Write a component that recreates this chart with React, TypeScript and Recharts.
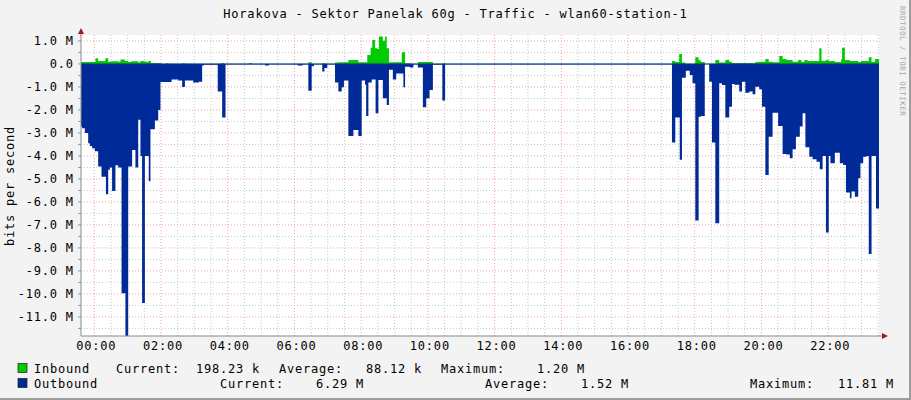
import React from 'react';
import { ComposedChart, Area, XAxis, YAxis, CartesianGrid, ReferenceLine } from 'recharts';

const TITLE = 'Horakova - Sektor Panelak 60g - Traffic - wlan60-station-1';
const WATERMARK = 'RRDTOOL / TOBI OETIKER';

// x axis: minutes since 00:00
const hourTicks = [0, 120, 240, 360, 480, 600, 720, 840, 960, 1080, 1200, 1320];
const hourLabels = ['00:00', '02:00', '04:00', '06:00', '08:00', '10:00', '12:00', '14:00', '16:00', '18:00', '20:00', '22:00'];
const xDomain = [-23.9, 1411.4];

// y axis: megabits per second
const yTickValues = [1, 0, -1, -2, -3, -4, -5, -6, -7, -8, -9, -10, -11];
const yTickLabels = ['1.0 M', '0.0', '-1.0 M', '-2.0 M', '-3.0 M', '-4.0 M', '-5.0 M', '-6.0 M', '-7.0 M', '-8.0 M', '-9.0 M', '-10.0 M', '-11.0 M'];
const yDomain = [-11.83, 1.26];

// Outbound (drawn negative), step breakpoints
const outTimes = [
  -24, -22, -17, -11, -8, -4, 1, 7, 13, 21, 25, 28, 32, 38, 43, 49, 56, 61, 68, 74,
  79, 83, 86, 91, 98, 101, 109, 115, 119, 139, 151, 158, 163, 178, 188, 194, 197, 222, 230, 236,
  307, 314, 366, 375, 385, 391, 395, 410, 414, 419, 433, 439, 445, 449, 457, 466, 475, 481, 487, 489,
  493, 499, 506, 511, 519, 526, 530, 537, 543, 556, 559, 568, 574, 582, 591, 597, 603, 609, 626, 631,
  1039, 1045, 1053, 1057, 1064, 1071, 1076, 1081, 1087, 1091, 1098, 1106, 1111, 1117, 1124, 1129, 1135, 1142, 1147, 1151,
  1160, 1165, 1171, 1178, 1184, 1189, 1196, 1201, 1207, 1213, 1220, 1230, 1238, 1245, 1251, 1256, 1262, 1269, 1274, 1279,
  1286, 1292, 1299, 1305, 1310, 1316, 1321, 1324, 1332, 1341, 1347, 1352, 1359, 1362, 1368, 1374, 1378, 1383, 1389, 1393,
  1398, 1406, 1411.4,
];
const outValues = [
  -2.72, -2.8, -3.0, -3.45, -3.57, -3.67, -3.8, -4.46, -4.9, -5.67, -4.6, -4.5, -5.52, -4.4, -4.5, -9.97, -11.83, -4.46, -3.74, -4.5,
  -2.43, -4.0, -10.4, -4.0, -5.1, -2.84, -2.46, -2.0, -0.78, -0.67, -0.72, -1.0, -0.72, -0.81, -0.77, -0.07, -0.03, -1.2, -2.33, -0.02,
  -0.07, -0.02, -0.07, -0.02, -1.16, -0.1, -0.02, -0.33, -0.18, -0.02, -0.81, -1.2, -1.01, -0.72, -3.13, -2.87, -3.13, -0.72, -0.9, -2.26,
  -0.81, -0.67, -2.14, -0.7, -1.49, -1.78, -0.25, -0.67, -0.41, -1.01, -0.12, -0.15, -0.02, -0.15, -1.88, -1.49, -1.13, -0.03, -1.59, -0.02,
  -3.42, -2.33, -4.17, -0.6, -0.29, -0.48, -0.84, -6.81, -2.29, -2.26, -0.01, -0.77, -3.42, -6.93, -0.84, -0.91, -2.33, -1.86, -0.87, -0.9,
  -1.2, -0.77, -1.25, -1.2, -1.32, -0.99, -1.1, -1.86, -4.83, -3.16, -2.12, -2.7, -3.91, -3.94, -4.1, -3.71, -3.16, -2.72, -2.14, -3.62,
  -4.03, -4.14, -4.25, -4.58, -4.0, -7.33, -4.0, -4.32, -3.86, -4.32, -4.39, -5.59, -5.84, -5.55, -5.77, -4.97, -4.32, -4.03, -4.0, -8.26,
  -4.0, -6.29, -6.29,
];

// Inbound (drawn positive), step breakpoints
const inTimes = [
  -24, 2, 7, 20, 25, 29, 43, 47, 55, 61, 66, 79, 83, 91, 98, 102, 120, 129, 134, 158,
  163, 228, 234, 278, 284, 385, 391, 410, 417, 433, 439, 457, 475, 491, 497, 500, 505, 509, 512, 519,
  523, 526, 530, 553, 559, 568, 582, 609, 626, 631, 1039, 1045, 1052, 1057, 1063, 1081, 1087, 1091, 1098, 1117,
  1124, 1135, 1142, 1147, 1189, 1196, 1207, 1213, 1220, 1232, 1238, 1245, 1256, 1266, 1272, 1277, 1283, 1304, 1308, 1316,
  1321, 1332, 1343, 1345, 1350, 1359, 1374, 1379, 1393, 1398, 1404, 1411.4,
];
const inValues = [
  0.09, 0.25, 0.13, 0.25, 0.1, 0.12, 0.1, 0.19, 0.13, 0.09, 0.12, 0.07, 0.13, 0.1, 0.13, 0.04, 0.01, 0.03, 0.01, 0.03,
  0.01, 0.04, 0.01, 0.04, 0.01, 0.07, 0.01, 0.03, 0.01, 0.06, 0.07, 0.17, 0.07, 0.39, 0.71, 1.04, 0.68, 0.65, 1.19, 1.01,
  1.2, 0.68, 0.07, 0.51, 0.03, 0.01, 0.09, 0.01, 0.03, 0.005, 0.13, 0.09, 0.43, 0.06, 0.01, 0.29, 0.16, 0.09, 0.01, 0.17,
  0.06, 0.17, 0.1, 0.04, 0.09, 0.1, 0.22, 0.1, 0.07, 0.35, 0.22, 0.17, 0.1, 0.17, 0.09, 0.17, 0.13, 0.68, 0.14, 0.17,
  0.13, 0.09, 0.2, 0.71, 0.17, 0.13, 0.09, 0.13, 0.29, 0.09, 0.22, 0.22,
];

const legendInbound = ['Inbound', 'Current:', '198.23 k', 'Average:', '88.12 k', 'Maximum:', '1.20 M'];
const legendOutbound = ['Outbound', 'Current:', '6.29 M', 'Average:', '1.52 M', 'Maximum:', '11.81 M'];

const GREEN = '#00CC00';
const BLUE = '#002A97';
const FONT = '"DejaVu Sans Mono", "Liberation Mono", monospace';
const LS = 0.78;

function stepValue(times: number[], values: number[], t: number): number {
  let v = values[0];
  for (let i = 0; i < times.length; i++) {
    if (times[i] <= t) v = values[i];
    else break;
  }
  return v;
}

const allTimes = Array.from(new Set([...outTimes, ...inTimes])).sort((a, b) => a - b);
const data = allTimes.map((t) => ({
  t,
  inbound: stepValue(inTimes, inValues, t),
  outbound: stepValue(outTimes, outValues, t),
}));

const minorX: number[] = [];
for (let m = 30; m <= 1410; m += 30) if (m % 120 !== 0) minorX.push(m);
const majorX = hourTicks;
const minorY: number[] = [];
for (let v = -11.5; v <= 1; v += 1) minorY.push(v);
const majorY = yTickValues.filter((v) => v !== 0);
const yAxisTicks = [...majorY, 0, ...minorY].sort((a, b) => a - b);

const YTick = (props: any) => {
  const { x, y, payload } = props;
  const v = payload.value;
  const idx = yTickValues.indexOf(v);
  return (
    <g>
      <line x1={x - 3} x2={x} y1={y} y2={y} stroke="#999" strokeWidth={1} />
      {idx >= 0 && (
        <text
          x={x - 7.2}
          y={y + 4.3}
          textAnchor="end"
          fontFamily={FONT}
          fontSize={12}
          fill="#000"
          style={{ letterSpacing: LS }}
        >
          {yTickLabels[idx]}
        </text>
      )}
    </g>
  );
};

const XTick = (props: any) => {
  const { x, y, payload } = props;
  const idx = hourTicks.indexOf(payload.value);
  if (idx < 0) return <g />;
  return (
    <text
      x={x + 2}
      y={y + 14}
      textAnchor="middle"
      fontFamily={FONT}
      fontSize={12}
      fill="#000"
      style={{ letterSpacing: LS }}
    >
      {hourLabels[idx]}
    </text>
  );
};

const txt = (x: number, y: number, s: string, anchor: 'start' | 'end' | 'middle' = 'start') => (
  <text
    key={`${x}-${y}-${s}`}
    x={x}
    y={y}
    textAnchor={anchor}
    fontFamily={FONT}
    fontSize={12}
    fill="#000"
    style={{ letterSpacing: LS }}
  >
    {s}
  </text>
);

export default function App() {
  return (
    <div
      style={{
        position: 'absolute',
        left: 0,
        top: 0,
        width: 911,
        height: 400,
        background: '#F3F3F3',
        overflow: 'hidden',
      }}
    >
      <ComposedChart
        width={911}
        height={400}
        data={data}
        margin={{ top: 35, right: 32, bottom: 34, left: 11 }}
      >
        <CartesianGrid
          fill="#FFFFFF"
          stroke="#C8C8C8"
          strokeDasharray="1 2"
          horizontalValues={minorY}
          verticalValues={minorX}
        />
        <CartesianGrid
          fill="none"
          stroke="#F2A0A0"
          strokeDasharray="1 2"
          horizontalValues={majorY}
          verticalValues={majorX}
        />
        <XAxis
          dataKey="t"
          type="number"
          domain={xDomain}
          allowDataOverflow
          ticks={hourTicks}
          tick={<XTick />}
          tickLine={false}
          tickSize={0}
          tickMargin={0}
          height={30}
          axisLine={{ stroke: '#8A8A8A' }}
          interval={0}
        />
        <YAxis
          type="number"
          domain={yDomain}
          allowDataOverflow
          ticks={yAxisTicks}
          tick={<YTick />}
          tickLine={false}
          tickSize={0}
          tickMargin={0}
          width={70}
          axisLine={{ stroke: '#8A8A8A' }}
          interval={0}
        />
        <Area
          type="stepAfter"
          dataKey="outbound"
          fill={BLUE}
          fillOpacity={1}
          stroke="none"
          isAnimationActive={false}
          dot={false}
          activeDot={false}
        />
        <Area
          type="stepAfter"
          dataKey="inbound"
          fill={GREEN}
          fillOpacity={1}
          stroke="none"
          isAnimationActive={false}
          dot={false}
          activeDot={false}
        />
        <ReferenceLine y={0} stroke="#1B2F8C" strokeWidth={1} />
      </ComposedChart>

      <svg
        width={911}
        height={400}
        style={{ position: 'absolute', left: 0, top: 0, pointerEvents: 'none' }}
      >
        {txt(455.5, 18, TITLE, 'middle')}
        <text
          x={14}
          y={186}
          transform="rotate(-90 14 186)"
          textAnchor="middle"
          fontFamily={FONT}
          fontSize={12}
          fill="#000"
          style={{ letterSpacing: LS }}
        >
          bits per second
        </text>
        {/* axis extensions and arrows */}
        <line x1={81} x2={81} y1={31} y2={36} stroke="#8A8A8A" />
        <polygon points="78,34 84,34 81,28" fill="#A01818" />
        <line x1={878} x2={884} y1={336} y2={336} stroke="#8A8A8A" />
        <polygon points="882,333 882,339 888,336" fill="#A01818" />
        {/* legend */}
        <rect x={18} y={363.5} width={9} height={9} fill={GREEN} stroke="#1a1a1a" strokeWidth={0.7} />
        <rect x={18} y={378.5} width={9} height={9} fill={BLUE} stroke="#1a1a1a" strokeWidth={0.7} />
        {txt(34, 373, legendInbound[0])}
        {txt(116, 373, legendInbound[1])}
        {txt(260, 373, legendInbound[2], 'end')}
        {txt(279, 373, legendInbound[3])}
        {txt(422, 373, legendInbound[4], 'end')}
        {txt(441, 373, legendInbound[5])}
        {txt(585, 373, legendInbound[6], 'end')}
        {txt(34, 388, legendOutbound[0])}
        {txt(220, 388, legendOutbound[1])}
        {txt(364, 388, legendOutbound[2], 'end')}
        {txt(485, 388, legendOutbound[3])}
        {txt(629, 388, legendOutbound[4], 'end')}
        {txt(750, 388, legendOutbound[5])}
        {txt(894, 388, legendOutbound[6], 'end')}
        {/* watermark */}
        <text
          transform="translate(900 6) rotate(90)"
          x={0}
          y={0}
          fontFamily={FONT}
          fontSize={7.5}
          fill="#A8A8A8"
          style={{ letterSpacing: 0.5 }}
        >
          {WATERMARK}
        </text>
        {/* frame shade */}
        <rect x={909} y={0} width={2} height={400} fill="#9C9C9C" />
        <rect x={0} y={398} width={911} height={2} fill="#9C9C9C" />
      </svg>
    </div>
  );
}
